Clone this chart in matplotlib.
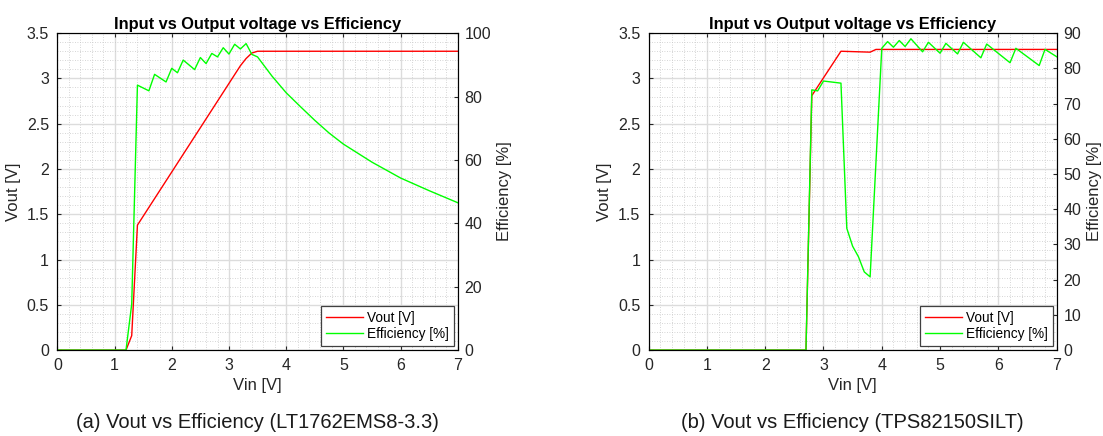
import numpy as np
import matplotlib
matplotlib.use('Agg')
from matplotlib import pyplot as plt
from matplotlib.ticker import MultipleLocator

plt.rcParams['font.family'] = ['Liberation Sans', 'DejaVu Sans']

# (a) LT1762EMS8-3.3
vin_a_vout = [0, 1.2, 1.3, 1.4, 3.2, 3.3, 3.4, 3.5, 7.0]
vout_a = [0, 0, 0.16, 1.38, 3.14, 3.22, 3.28, 3.30, 3.30]
vin_a_eff = [0, 1.2, 1.3, 1.4, 1.6, 1.7, 1.9, 2.0, 2.1, 2.2, 2.4, 2.5, 2.6, 2.7,
             2.8, 2.9, 3.0, 3.1, 3.2, 3.3, 3.4, 3.5, 3.75, 4.0, 4.25, 4.5, 4.75,
             5.0, 5.5, 6.0, 6.5, 7.0]
eff_a = [0, 0, 14.5, 83.6, 81.8, 87.0, 84.6, 88.9, 87.5, 91.5, 88.5, 92.3, 90.4, 93.6,
         92.5, 95.4, 93.4, 96.5, 95.0, 96.7, 93.3, 92.5, 86.5, 81.2, 76.8, 72.5, 68.5,
         65.0, 59.3, 54.3, 50.3, 46.5]

# (b) TPS82150SILT
vin_b_vout = [0, 2.7, 2.8, 3.3, 3.8, 3.9, 7.0]
vout_b = [0, 0, 2.81, 3.30, 3.29, 3.32, 3.32]
vin_b_eff = [0, 2.7, 2.8, 2.9, 3.0, 3.3, 3.4, 3.5, 3.6, 3.7, 3.8, 4.0, 4.1, 4.2, 4.3,
             4.4, 4.5, 4.7, 4.8, 5.0, 5.1, 5.3, 5.4, 5.7, 5.8, 6.2, 6.3, 6.7, 6.8, 7.0]
eff_b = [0, 0, 73.9, 73.6, 76.4, 75.8, 34.6, 29.5, 26.5, 22.2, 20.8, 85.7, 87.6, 86.0, 87.9,
         86.2, 88.4, 84.7, 87.4, 84.3, 87.1, 84.1, 87.4, 83.0, 86.9, 81.6, 85.7, 80.8, 85.4, 83.3]

vout_ticks = [0, 0.5, 1, 1.5, 2, 2.5, 3, 3.5]
vout_labels = ['0', '0.5', '1', '1.5', '2', '2.5', '3', '3.5']
vin_ticks = [0, 1, 2, 3, 4, 5, 6, 7]

title = 'Input vs Output voltage vs Efficiency'
captions = ['(a) Vout vs Efficiency (LT1762EMS8-3.3)',
            '(b) Vout vs Efficiency (TPS82150SILT)']


def draw_panel(fig, rect, vin_v, vout, vin_e, eff, eff_max, eff_step, caption):
	ax = fig.add_axes(rect)
	ax.set_xlim(0, 7)
	ax.set_ylim(0, 3.5)
	ax.set_xticks(vin_ticks)
	ax.set_yticks(vout_ticks)
	ax.set_yticklabels(vout_labels)
	ax.xaxis.set_minor_locator(MultipleLocator(0.2))
	ax.yaxis.set_minor_locator(MultipleLocator(0.1))
	ax.grid(which='major', color='#dcdcdc', linewidth=1.0)
	ax.grid(which='minor', color='#c8c8c8', linestyle=(0, (1, 2)), linewidth=0.6)
	ax.set_axisbelow(True)
	ax.tick_params(which='major', direction='in', length=3, labelsize=11.5, pad=6,
	               top=True, right=False, colors='#262626')
	ax.tick_params(which='minor', length=0)
	for s in ax.spines.values():
		s.set_color('#262626')
	l1, = ax.plot(vin_v, vout, color='#ff0000', linewidth=1.0, label='Vout [V]')
	ax.set_xlabel('Vin [V]', fontsize=12, color='#262626', labelpad=3)
	ax.set_ylabel('Vout [V]', fontsize=12, color='#262626', labelpad=4)
	ax.set_title(title, fontsize=11.8, fontweight='bold', pad=3)

	ax2 = ax.twinx()
	ax2.set_ylim(0, eff_max)
	ax2.set_yticks(np.arange(0, eff_max + 1, eff_step))
	ax2.tick_params(direction='in', length=3, labelsize=11.5, pad=5, colors='#262626')
	l2, = ax2.plot(vin_e, eff, color='#00ff00', linewidth=1.0, label='Efficiency [%]')
	ax2.set_ylabel('Efficiency [%]', fontsize=12, color='#262626', labelpad=4)

	leg = ax2.legend(handles=[l1, l2], loc='lower right', fontsize=9.8, frameon=True,
	                 fancybox=False, edgecolor='#404040', framealpha=1,
	                 borderaxespad=0.3, handlelength=2.7, borderpad=0.35,
	                 labelspacing=0.2, handletextpad=0.3)
	leg.get_frame().set_linewidth(0.9)

	cx = rect[0] + rect[2] / 2
	fig.text(cx, 0.032, caption, ha='center', va='center', fontsize=14.5, color='#1a1a1a')


def main():
	fig = plt.figure(figsize=(11.03, 4.36), dpi=100, facecolor='w')
	draw_panel(fig, [0.052, 0.197, 0.363, 0.727], vin_a_vout, vout_a, vin_a_eff, eff_a,
	           100, 20, captions[0])
	draw_panel(fig, [0.588, 0.197, 0.370, 0.727], vin_b_vout, vout_b, vin_b_eff, eff_b,
	           90, 10, captions[1])
	fig.savefig('out.png', dpi=100)


if __name__ == '__main__':
	main()
